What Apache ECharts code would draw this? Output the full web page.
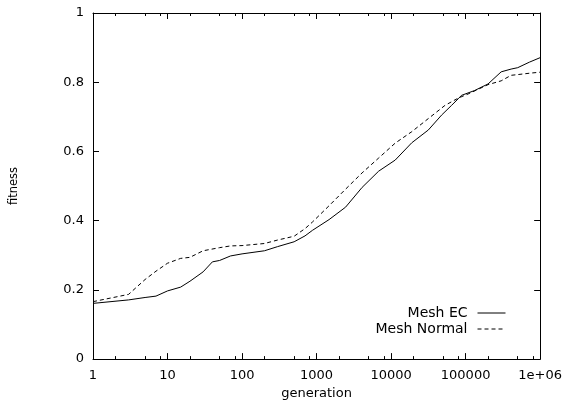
<!DOCTYPE html>
<html><head><meta charset="utf-8">
<script src="https://cdn.jsdelivr.net/npm/echarts@6/dist/echarts.min.js"></script>
<style>html,body{margin:0;padding:0;background:#fff}#c{width:565px;height:405px}</style>
</head><body><div id="c"></div>
<script>
// Data
var genEC = [1, 3, 5, 7, 10, 15, 20, 30, 40, 50, 70, 100, 200, 300, 500, 700, 880, 1470, 2450, 4080, 6810, 11350, 18930, 31620, 47550, 64700, 79400, 88000, 132000, 200000, 300000, 408000, 500000, 718000, 1000000];
var meshEC = [0.161, 0.171, 0.178, 0.182, 0.197, 0.208, 0.225, 0.252, 0.281, 0.285, 0.298, 0.304, 0.313, 0.325, 0.339, 0.356, 0.372, 0.403, 0.439, 0.496, 0.543, 0.575, 0.625, 0.662, 0.705, 0.733, 0.752, 0.762, 0.776, 0.795, 0.830, 0.838, 0.842, 0.858, 0.871];
var genNormal = [1, 3, 5, 7, 10, 15, 20, 30, 50, 70, 100, 200, 300, 500, 700, 880, 1470, 2450, 4080, 6810, 11350, 18930, 31620, 52800, 79400, 108000, 200000, 300000, 408000, 500000, 718000, 1000000];
var meshNormal = [0.166, 0.187, 0.230, 0.254, 0.277, 0.291, 0.294, 0.313, 0.322, 0.327, 0.328, 0.334, 0.344, 0.355, 0.377, 0.396, 0.443, 0.491, 0.538, 0.581, 0.624, 0.657, 0.695, 0.733, 0.754, 0.766, 0.793, 0.804, 0.820, 0.822, 0.826, 0.829];
var xMajor = [1, 10, 100, 1000, 10000, 100000, 1000000];
var xTickLabels = ['1', '10', '100', '1000', '10000', '100000', '1e+06'];
var xMinor = [2, 5, 8, 20, 50, 80, 200, 500, 800, 2000, 5000, 8000, 20000, 50000, 80000, 200000, 500000, 800000];
var yTickLabels = ['0', '0.2', '0.4', '0.6', '0.8', '1'];
var seriesNames = ['Mesh EC', 'Mesh Normal'];

function pairs(xs, ys) { return xs.map(function (x, i) { return [x, ys[i]]; }); }
var FONT = '"DejaVu Sans", Verdana, sans-serif';
var black = '#000';

function xAxis(pos, ticks, len, showLine, showLabel) {
  return {
    type: 'log', logBase: 10, min: 1, max: 1000000, position: pos,
    axisLine: { show: showLine, lineStyle: { color: black, width: 1 } },
    axisTick: { show: true, inside: true, length: len, customValues: ticks, lineStyle: { color: black, width: 1 } },
    axisLabel: {
      show: showLabel, customValues: xMajor, margin: 10, color: black, fontSize: 13, fontFamily: FONT,
      formatter: function (v) { return xTickLabels[Math.round(Math.log10(v))]; }
    },
    splitLine: { show: false }, minorTick: { show: false }
  };
}

function legendFor(name, top) {
  return {
    data: [name], orient: 'vertical', right: 59, top: top, align: 'right', padding: 0,
    itemWidth: 28, itemHeight: 12, itemGap: 4,
    itemStyle: { opacity: 0 },
    lineStyle: { width: 1 },
    textStyle: { color: black, fontSize: 14, fontFamily: FONT, padding: [0, 5, 0, 0] }
  };
}

var chart = echarts.init(document.getElementById('c'), null, { renderer: 'canvas' });
chart.setOption({
  animation: false,
  backgroundColor: '#fff',
  grid: { left: 92.5, right: 22.5, top: 13, bottom: 41, containLabel: false },
  xAxis: [
    Object.assign(xAxis('bottom', xMajor, 6, true, true), {
      name: 'generation', nameLocation: 'middle', nameGap: 27,
      nameTextStyle: { color: black, fontSize: 13, fontFamily: FONT }
    }),
    xAxis('bottom', xMinor, 3, false, false),
    xAxis('top', xMajor, 6, true, false),
    xAxis('top', xMinor, 3, false, false)
  ],
  yAxis: [
    {
      type: 'value', min: 0, max: 1, interval: 0.2, position: 'left',
      name: 'fitness', nameLocation: 'middle', nameGap: 73, nameRotate: 90,
      nameTextStyle: { color: black, fontSize: 11.5, fontFamily: FONT },
      axisLine: { show: true, lineStyle: { color: black, width: 1 } },
      axisTick: { show: true, inside: true, length: 6, lineStyle: { color: black } },
      axisLabel: { margin: 9, color: black, fontSize: 13, fontFamily: FONT,
        formatter: function (v) { return yTickLabels[Math.round(v / 0.2)]; } },
      splitLine: { show: false }
    },
    {
      type: 'value', min: 0, max: 1, interval: 0.2, position: 'right',
      axisLine: { show: true, lineStyle: { color: black, width: 1 } },
      axisTick: { show: true, inside: true, length: 6, lineStyle: { color: black } },
      axisLabel: { show: false },
      splitLine: { show: false }
    }
  ],
  legend: [legendFor(seriesNames[0], 306), legendFor(seriesNames[1], 322)],
  series: [
    { name: seriesNames[0], type: 'line', xAxisIndex: 0, yAxisIndex: 0, data: pairs(genEC, meshEC),
      symbol: 'none', color: black, lineStyle: { color: black, width: 1, type: 'solid' } },
    { name: seriesNames[1], type: 'line', xAxisIndex: 0, yAxisIndex: 0, data: pairs(genNormal, meshNormal),
      symbol: 'none', color: black, lineStyle: { color: black, width: 1, type: [4, 3] } }
  ]
});
</script></body></html>
